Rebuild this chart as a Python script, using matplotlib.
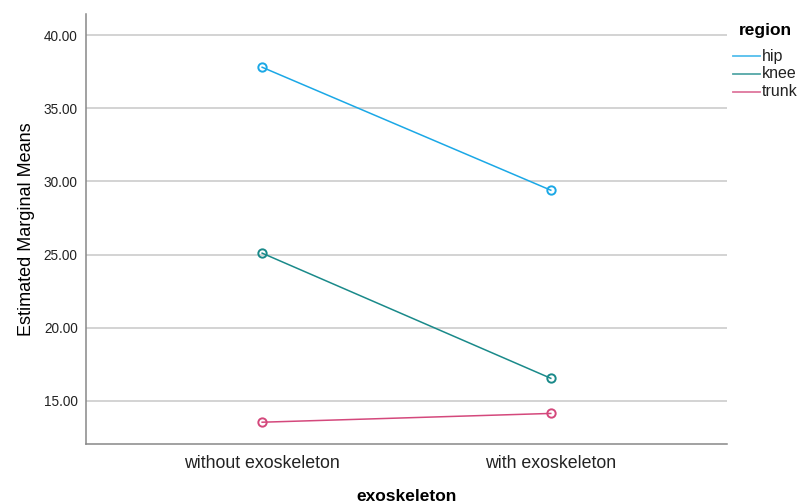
import matplotlib
matplotlib.use("Agg")
import matplotlib.pyplot as plt
from matplotlib.lines import Line2D
from matplotlib.ticker import FormatStrFormatter

plt.rcParams['font.family'] = ['Liberation Sans', 'DejaVu Sans']

categories = ['without exoskeleton', 'with exoskeleton']
regions = ['hip', 'knee', 'trunk']
hip = [37.8, 29.4]
knee = [25.1, 16.55]
trunk = [13.55, 14.15]
colors = ['#1BA8E6', '#1A8A8A', '#D4487C']
yticks = [15, 20, 25, 30, 35, 40]

W, H = 797, 504
fig = plt.figure(figsize=(W / 100, H / 100), dpi=100)
ax = fig.add_axes([0.108, 0.119, 0.804, 0.853])

x = [0, 1]
for name, vals, c in zip(regions, [hip, knee, trunk], colors):
    ax.plot(x, vals, color=c, lw=1.1, marker='o', ms=6, mfc='none',
            mec=c, mew=1.4, label=name)

ax.set_xlim(-0.61, 1.61)
ax.set_ylim(12.06, 41.43)
ax.set_xticks(x)
ax.set_xticklabels(categories, fontsize=12.8, color='#222222')
ax.set_yticks(yticks)
ax.yaxis.set_major_formatter(FormatStrFormatter('%.2f'))
ax.tick_params(axis='y', labelsize=9.8, colors='#222222', length=0, pad=6)
ax.tick_params(axis='x', length=0, pad=8)
ax.grid(axis='y', color='#C8C8C8', lw=1.1)
ax.set_axisbelow(True)
for s in ['top', 'right']:
    ax.spines[s].set_visible(False)
for s in ['left', 'bottom']:
    ax.spines[s].set_color('#888888')
    ax.spines[s].set_linewidth(1.1)

ax.set_xlabel('exoskeleton', fontsize=12.5, fontweight='bold', labelpad=12)
ax.set_ylabel('Estimated Marginal Means', fontsize=13, labelpad=6)

# legend drawn by hand to sit in the narrow right margin
fig.text(765 / W, 1 - 30 / H, 'region', fontsize=12.5, fontweight='bold',
         ha='center', va='center')
for i, (name, c) in enumerate(zip(regions, colors)):
    yy = 1 - (56 + 18 * i) / H
    fig.add_artist(Line2D([733 / W, 760 / W], [yy, yy], color=c, lw=1.3,
                          alpha=0.75, transform=fig.transFigure))
    fig.text(762 / W, yy, name, fontsize=11.5, ha='left', va='center',
             color='#222222')

fig.savefig('out.png', dpi=100)
